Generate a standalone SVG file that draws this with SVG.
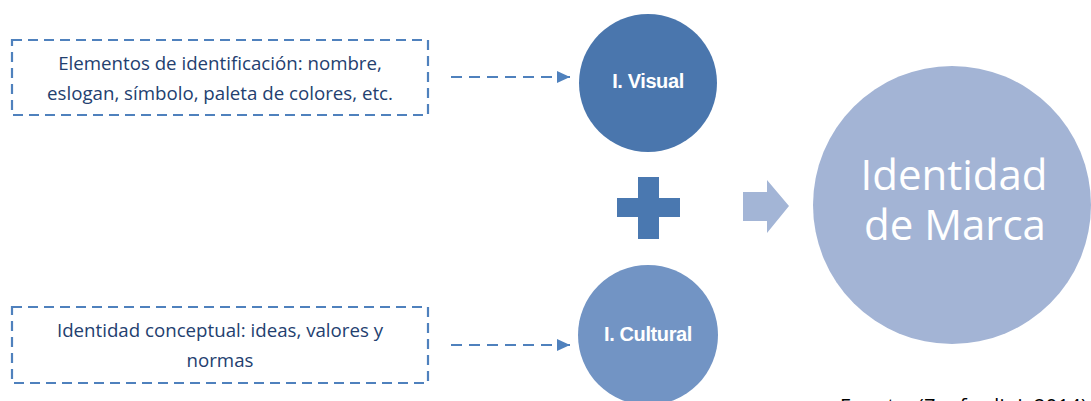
<svg xmlns="http://www.w3.org/2000/svg" width="1091" height="401" viewBox="0 0 1091 401">
<style>
.box{fill:none;stroke:#4f81bd;stroke-width:2.2;stroke-dasharray:10 6}
.btxt{font-family:"Open Sans","Liberation Sans",sans-serif;font-size:18.7px;fill:#23406f;text-anchor:middle}
.ctxt{font-family:"Liberation Sans",sans-serif;font-size:20px;font-weight:bold;fill:#fff;text-anchor:middle;letter-spacing:-0.4px}
.conn{fill:none;stroke:#4f81bd;stroke-width:2.2;stroke-dasharray:11 7}
.big{font-family:"Open Sans","Liberation Sans",sans-serif;font-size:42px;fill:#fff;text-anchor:middle}
</style>
<defs>
<marker id="ah" markerWidth="13" markerHeight="12" refX="13" refY="6" orient="auto" markerUnits="userSpaceOnUse">
<path d="M0,0 L13,6 L0,12 z" fill="#4f81bd"/>
</marker>
</defs>
<rect width="1091" height="401" fill="#fff"/>
<g id="box1">
<rect class="box" x="12" y="40" width="416" height="75"/>
<text class="btxt" x="220" y="70">Elementos de identificación: nombre,</text>
<text class="btxt" x="220" y="100">eslogan, símbolo, paleta de colores, etc.</text>
</g>
<g id="box2">
<rect class="box" x="12" y="307" width="416" height="76"/>
<text class="btxt" x="220" y="337">Identidad conceptual: ideas, valores y</text>
<text class="btxt" x="220" y="367">normas</text>
</g>
<g id="visual">
<circle cx="648" cy="83" r="69" fill="#4a76ad"/>
<text class="ctxt" x="648" y="88">I. Visual</text>
</g>
<g id="cultural">
<circle cx="648" cy="335" r="70" fill="#7294c4"/>
<text class="ctxt" x="648" y="341">I. Cultural</text>
</g>
<g id="plus">
<path d="M638,177 H659 V198 H680 V217 H659 V239 H638 V217 H617 V198 H638 Z" fill="#4a78b0"/>
</g>
<g id="arrow">
<path d="M743,192 H767 V180 L789,206 L767,233 V221 H743 Z" fill="#a3b5d6"/>
</g>
<g id="marca">
<circle cx="952" cy="205" r="139" fill="#a3b4d5"/>
<text class="big" x="954" y="190">Identidad</text>
<text class="big" x="955" y="240">de Marca</text>
</g>
<g id="connectors">
<line class="conn" x1="451" y1="77" x2="570" y2="77" marker-end="url(#ah)"/>
<line class="conn" x1="451" y1="345" x2="570" y2="345" marker-end="url(#ah)"/>
</g>
<text x="840" y="413" font-family="Open Sans,sans-serif" font-size="20" textLength="247" fill="#000">Fuente: (Zanfardini, 2014)</text>
</svg>
